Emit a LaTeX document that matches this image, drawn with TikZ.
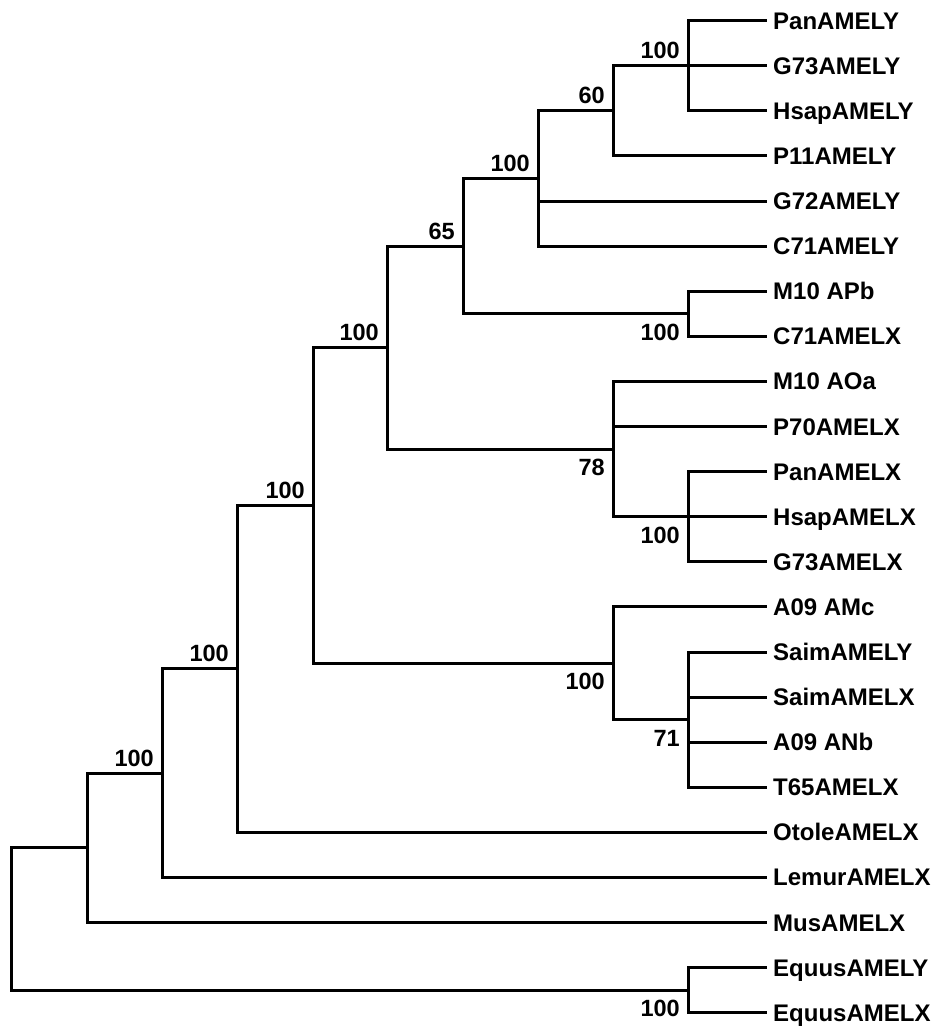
\documentclass[tikz,border=0pt]{standalone}
\usepackage{fontspec}
\setmainfont{Liberation Sans}
\usetikzlibrary{positioning}

\tikzset{
  hoja/.style={anchor=west, inner xsep=8pt, inner ysep=0pt, text height=17pt, text depth=0pt, font=\fontsize{24}{28}\selectfont\bfseries},
  bootup/.style={anchor=base east, inner sep=0pt, xshift=-8pt, yshift=7pt},
  bootdn/.style={anchor=base east, inner sep=0pt, xshift=-8pt, yshift=-26.5pt},
  rama/.style={line width=3pt, line cap=rect}
}

\begin{document}
\begin{tikzpicture}[x=1pt, y=-1pt, font=\fontsize{23.5}{28}\selectfont\bfseries]
\useasboundingbox (0,0) rectangle (938,1027);

% hojas
\node [hoja] (L1) at (765,20.7) {PanAMELY};
\node [hoja] (L2) at (765,65.8) {G73AMELY};
\node [hoja] (L3) at (765,110.9) {HsapAMELY};
\node [hoja] (L4) at (765,156.0) {P11AMELY};
\node [hoja] (L5) at (765,201.1) {G72AMELY};
\node [hoja] (L6) at (765,246.2) {C71AMELY};
\node [hoja] (L7) at (765,291.2) {M10 APb};
\node [hoja] (L8) at (765,336.3) {C71AMELX};
\node [hoja] (L9) at (765,381.4) {M10 AOa};
\node [hoja] (L10) at (765,426.5) {P70AMELX};
\node [hoja] (L11) at (765,471.6) {PanAMELX};
\node [hoja] (L12) at (765,516.7) {HsapAMELX};
\node [hoja] (L13) at (765,561.8) {G73AMELX};
\node [hoja] (L14) at (765,606.9) {A09 AMc};
\node [hoja] (L15) at (765,652.0) {SaimAMELY};
\node [hoja] (L16) at (765,697.1) {SaimAMELX};
\node [hoja] (L17) at (765,742.1) {A09 ANb};
\node [hoja] (L18) at (765,787.2) {T65AMELX};
\node [hoja] (L19) at (765,832.3) {OtoleAMELX};
\node [hoja] (L20) at (765,877.4) {LemurAMELX};
\node [hoja] (L21) at (765,922.5) {MusAMELX};
\node [hoja] (L22) at (765,967.6) {EquusAMELY};
\node [hoja] (L23) at (765,1012.7) {EquusAMELX};

% nodos internos
\coordinate (n1) at (688,65.8);
\coordinate (n2) at (613,110.9);
\coordinate (n3) at (538,178.6);
\coordinate (n4) at (688,313.8);
\coordinate (n5) at (463,246.2);
\coordinate (n6) at (688,516.7);
\coordinate (n7) at (613,449.1);
\coordinate (n8) at (387,347.6);
\coordinate (n9) at (688,719.6);
\coordinate (n10) at (613,663.3);
\coordinate (n11) at (313,505.5);
\coordinate (n12) at (237,668.9);
\coordinate (n13) at (162,773.2);
\coordinate (n14) at (87,847.9);
\coordinate (n16) at (688,990.2);
\coordinate (raiz) at (11,919.0);

% valores de soporte
\node [bootup] (s1) at (n1) {100};
\node [bootup] (s2) at (n2) {60};
\node [bootup] (s3) at (n3) {100};
\node [bootdn] (s4) at (n4) {100};
\node [bootup] (s5) at (n5) {65};
\node [bootdn] (s6) at (n6) {100};
\node [bootdn] (s7) at (n7) {78};
\node [bootup] (s8) at (n8) {100};
\node [bootdn] (s9) at (n9) {71};
\node [bootdn] (s10) at (n10) {100};
\node [bootup] (s11) at (n11) {100};
\node [bootup] (s12) at (n12) {100};
\node [bootup] (s13) at (n13) {100};
\node [bootdn] (s16) at (n16) {100};

% ramas
\path[rama, draw]
(n1) |- (L1) (n1) |- (L2) (n1) |- (L3)
(n2) |- (n1) (n2) |- (L4)
(n3) |- (n2) (n3) |- (L5) (n3) |- (L6)
(n4) |- (L7) (n4) |- (L8)
(n5) |- (n3) (n5) |- (n4)
(n6) |- (L11) (n6) |- (L12) (n6) |- (L13)
(n7) |- (L9) (n7) |- (L10) (n7) |- (n6)
(n8) |- (n5) (n8) |- (n7)
(n9) |- (L15) (n9) |- (L16) (n9) |- (L17) (n9) |- (L18)
(n10) |- (L14) (n10) |- (n9)
(n11) |- (n8) (n11) |- (n10)
(n12) |- (n11) (n12) |- (L19)
(n13) |- (n12) (n13) |- (L20)
(n14) |- (n13) (n14) |- (L21)
(n16) |- (L22) (n16) |- (L23)
(raiz) |- (n14) (raiz) |- (n16);
\end{tikzpicture}
\end{document}
